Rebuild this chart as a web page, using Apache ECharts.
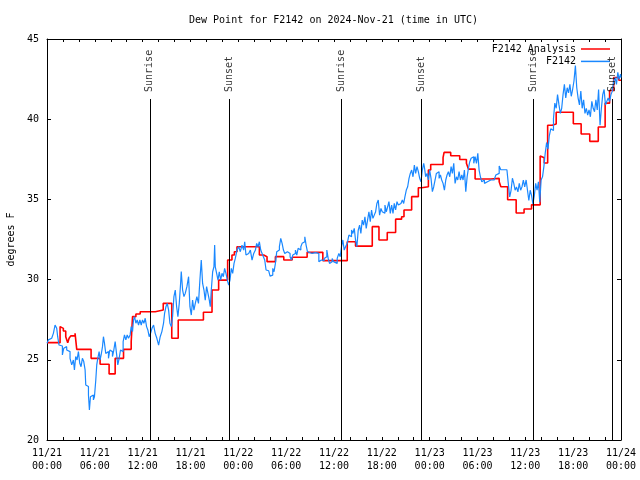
<!DOCTYPE html>
<html><head><meta charset="utf-8">
<script src="https://cdn.jsdelivr.net/npm/echarts@6/dist/echarts.min.js"></script>
<style>html,body{margin:0;padding:0;background:#fff}#c{width:640px;height:480px}</style>
</head><body><div id="c"></div>
<script>
const FONT = '"DejaVu Sans Mono", "Liberation Mono", monospace';
const titleText = 'Dew Point for F2142 on 2024-Nov-21 (time in UTC)';
const yAxisTitle = 'degrees F';
const xTickLabels = ['11/21\n00:00','11/21\n06:00','11/21\n12:00','11/21\n18:00','11/22\n00:00','11/22\n06:00','11/22\n12:00','11/22\n18:00','11/23\n00:00','11/23\n06:00','11/23\n12:00','11/23\n18:00','11/24\n00:00'];
const seriesNames = ['F2142 Analysis', 'F2142'];

// hours since 2024-11-21 00:00 UTC
const analysisHours = [0,1.64,1.84,2.05,2.35,2.6,2.77,2.98,3.52,3.73,5.53,6.66,7.79,8.55,9.6,10.56,10.73,11.15,11.69,13.57,14.58,15.65,16.46,19.62,20.7,21.53,22.66,23.2,23.5,23.83,26.64,27.18,27.6,28.65,29.7,30.75,32.63,34.6,37.66,38.7,40.8,41.64,42.68,43.73,44.48,44.78,45.74,46.58,47.0,47.84,48.13,49.68,49.81,50.64,51.77,52.61,52.86,53.7,55.67,56.72,56.93,57.78,58.85,59.84,60.78,61.86,62.07,62.37,62.8,63.36,63.87,66.02,67.0,68.08,69.15,70.01,70.57,71.08,71.73,72];
const analysisDew = [26.07,27.07,26.96,26.8,26.44,26.07,26.34,26.49,26.65,25.65,25.09,24.72,24.12,25.09,25.65,26.13,27.69,27.86,28.0,28.1,28.52,26.34,27.48,27.96,29.35,29.97,31.22,31.53,31.74,32.05,31.53,31.43,31.12,31.43,31.22,31.39,31.7,31.18,32.36,32.09,33.3,32.47,32.94,33.77,33.92,34.34,35.17,35.73,35.79,36.83,37.18,37.6,37.93,37.72,37.49,37.25,36.89,36.27,36.31,36.1,35.79,34.98,34.15,34.4,34.66,37.7,37.6,37.27,39.62,39.7,40.43,39.72,39.08,38.62,39.51,41.0,41.79,42.6,42.43,42.43];

const stationHours = [0,0.17,0.38,0.59,0.8,1.01,1.22,1.34,1.51,1.76,1.93,2.1,2.26,2.47,2.68,2.89,3.1,3.31,3.44,3.6,3.77,3.94,4.11,4.27,4.44,4.61,4.78,4.86,5.03,5.2,5.32,5.45,5.62,5.82,5.95,6.12,6.24,6.37,6.54,6.66,6.79,6.96,7.08,7.21,7.37,7.54,7.71,7.88,8.04,8.21,8.38,8.55,8.72,8.88,9.05,9.22,9.39,9.55,9.72,9.89,10.06,10.22,10.43,10.56,10.73,10.85,10.98,11.15,11.31,11.48,11.65,11.82,11.98,12.15,12.32,12.49,12.65,12.82,12.99,13.16,13.37,13.57,13.78,14.0,14.2,14.41,14.62,14.75,14.92,15.08,15.25,15.42,15.59,15.75,15.92,16.09,16.26,16.42,16.59,16.76,16.84,17.01,17.18,17.34,17.55,17.76,17.93,18.1,18.26,18.43,18.6,18.8,19.0,19.18,19.35,19.52,19.69,19.85,20.02,20.19,20.36,20.48,20.61,20.78,20.94,21.03,21.11,21.28,21.45,21.61,21.78,21.95,22.12,22.28,22.45,22.62,22.79,22.95,23.12,23.29,23.46,23.62,23.83,24.04,24.25,24.46,24.67,24.8,24.96,25.13,25.3,25.51,25.72,25.93,26.14,26.3,26.47,26.64,26.81,26.98,27.14,27.31,27.48,27.65,27.81,27.98,28.15,28.32,28.48,28.65,28.82,28.99,29.15,29.32,29.49,29.66,29.82,29.99,30.16,30.33,30.49,30.66,30.83,31.0,31.16,31.33,31.5,31.67,31.84,32.0,32.17,32.34,32.5,32.67,32.84,33.26,33.68,33.93,34.1,34.27,34.43,34.6,34.77,34.94,35.1,35.27,35.44,35.61,35.77,35.94,36.19,36.4,36.61,36.78,36.94,37.11,37.28,37.45,37.66,37.87,38.03,38.2,38.37,38.54,38.7,38.87,39.04,39.21,39.37,39.54,39.71,39.88,40.04,40.21,40.38,40.55,40.71,40.88,41.05,41.22,41.38,41.55,41.72,41.89,42.05,42.22,42.39,42.56,42.73,42.89,43.06,43.23,43.4,43.56,43.73,43.9,44.07,44.23,44.4,44.57,44.74,44.9,45.07,45.24,45.41,45.57,45.74,45.91,46.08,46.24,46.41,46.58,46.75,46.91,47.08,47.25,47.33,47.5,47.67,47.84,48.0,48.17,48.34,48.51,48.68,48.84,49.01,49.18,49.35,49.51,49.68,49.85,50.02,50.18,50.35,50.52,50.69,50.85,51.02,51.19,51.36,51.52,51.69,51.86,52.03,52.19,52.36,52.53,52.7,52.86,53.03,53.2,53.37,53.53,53.7,53.87,54.04,54.12,54.2,54.37,54.54,54.71,54.87,55.04,55.25,55.46,55.67,55.88,56.09,56.3,56.55,56.72,56.92,57.35,57.69,57.86,58.04,58.21,58.38,58.55,58.72,58.89,59.07,59.24,59.41,59.58,59.75,59.92,60.1,60.27,60.44,60.61,60.78,60.95,61.13,61.3,61.47,61.64,61.81,61.98,62.16,62.33,62.5,62.67,62.84,63.01,63.19,63.36,63.53,63.7,63.87,64.04,64.22,64.39,64.56,64.73,64.9,65.07,65.25,65.42,65.59,65.76,65.93,66.1,66.28,66.45,66.62,66.79,66.96,67.13,67.31,67.48,67.65,67.82,67.99,68.16,68.34,68.51,68.68,68.85,69.02,69.19,69.37,69.54,69.71,69.88,70.05,70.22,70.39,70.57,70.74,70.91,71.08,71.25,71.43,71.6,71.77,71.94,72];
const stationDew = [26.03,26.24,26.34,26.24,26.65,27.17,26.96,26.44,25.92,25.86,25.3,25.72,25.82,25.61,25.51,25.09,24.68,24.99,24.37,25.2,24.99,25.51,24.78,24.57,25.09,24.89,24.37,23.43,23.33,22.81,21.87,22.7,22.81,22.5,22.7,23.74,24.68,25.09,25.51,24.99,25.3,25.82,26.44,26.03,25.4,25.51,25.09,25.61,25.51,25.2,25.61,26.13,25.4,24.68,25.09,25.61,25.51,26.13,26.55,26.24,26.55,26.34,26.55,27.07,26.76,27.48,27.69,27.28,27.48,27.17,27.48,27.17,27.48,27.28,27.59,27.07,26.86,26.44,26.65,26.96,27.17,26.65,26.34,25.92,26.44,26.76,27.28,27.9,28.31,28.52,28.11,27.28,27.07,27.69,28.94,29.35,28.31,27.69,28.52,29.77,30.5,29.35,28.94,29.14,29.56,30.18,28.31,27.79,28.72,28.1,28.52,28.93,28.52,29.97,31.22,29.76,29.35,28.72,29.56,29.14,28.72,28.31,29.35,30.49,30.8,32.15,30.8,30.39,29.97,30.49,29.97,30.39,30.18,30.7,30.39,29.97,29.66,29.97,30.7,30.39,31.01,31.32,31.84,32.05,31.74,32.15,31.84,32.36,31.53,31.63,31.53,31.84,31.22,31.63,31.84,32.26,32.05,32.36,31.84,31.63,31.43,31.22,30.6,30.55,30.6,30.22,30.28,30.7,30.49,31.01,31.74,31.84,32.05,32.57,32.26,31.84,31.63,31.74,31.63,31.63,31.43,31.22,31.53,31.63,31.84,31.53,31.95,31.84,32.05,32.26,32.36,32.67,32.15,31.74,31.63,31.68,31.7,31.63,31.12,31.22,31.12,31.18,31.32,31.43,31.84,31.32,31.01,31.12,31.32,31.12,31.01,31.32,31.63,31.43,32.05,32.47,31.84,32.05,32.26,32.78,32.67,33.09,32.88,33.19,32.47,32.05,33.09,33.4,32.88,33.71,33.4,33.92,33.19,33.71,34.23,33.61,34.34,33.82,34.02,34.23,34.75,34.96,34.02,34.44,34.23,34.13,34.65,34.23,34.54,34.86,34.13,34.65,34.13,34.75,34.34,34.86,34.65,34.75,34.86,34.96,34.75,35.17,35.58,35.79,36.31,36.62,36.83,36.41,37.14,36.62,37.04,36.73,36.31,36.1,36.83,37.25,37.04,36.41,36.62,36.21,36.83,36.31,35.48,35.79,36.21,36.62,36.73,36.31,36.52,36.21,36.0,35.58,36.21,36.52,36.73,36.41,37.04,36.62,37.25,36.0,36.41,36.21,36.73,36.21,36.52,36.21,36.83,35.48,36.41,36.93,37.35,37.56,37.66,37.25,37.66,37.25,37.87,37.35,36.83,36.41,36.1,36.21,36.0,36.1,36.0,36.21,36.1,36.21,36.25,36.52,36.62,37.08,36.85,36.85,36.74,36.0,35.15,35.57,36.32,36.0,35.57,35.78,35.47,36.0,35.57,35.78,36.21,35.78,36.21,35.57,34.93,35.57,35.25,34.72,35.25,36.0,35.57,36.1,34.83,36.21,36.42,37.06,37.91,38.55,38.13,38.98,39.4,39.3,40.04,41.0,40.68,41.53,40.89,40.36,40.68,41.53,42.17,41.32,41.96,41.64,42.17,41.43,41.85,42.38,43.34,41.96,41.32,40.89,41.75,40.68,41.21,40.36,40.68,40.26,40.58,40.15,41.11,40.68,40.47,41.21,40.58,41.85,39.62,40.68,41.53,41.85,40.89,41.11,41.32,41.11,41.53,41.75,42.38,42.6,42.17,42.92,42.49,42.81,42.6];

const sunriseHours = [12.9, 36.93, 60.98];
const sunsetHours = [22.88, 46.93, 70.87];
const eventLineTop = 41.26;

const zip = (a, b) => a.map((v, i) => [v, b[i]]);
const events = sunriseHours.map(h => [h, eventLineTop, 'Sunrise']).concat(sunsetHours.map(h => [h, eventLineTop, 'Sunset']));

const chart = echarts.init(document.getElementById('c'), null, {renderer: 'canvas'});
const txt = {fontFamily: FONT, fontSize: 10, color: '#000'};
const axisBase = {
  axisLine: {show: true, onZero: false, lineStyle: {color: '#000', width: 1}},
  splitLine: {show: false}
};
const lineIcon = 'path://M0,0H58V3H0Z';
chart.setOption({
  animation: false,
  backgroundColor: '#fff',
  title: {text: titleText, left: 189, top: 14, padding: 0, textStyle: Object.assign({fontWeight: 'normal', lineHeight: 12}, txt)},
  grid: {left: 47, top: 39, right: 19, bottom: 40, containLabel: false, outerBoundsMode: 'none'},
  legend: {
    data: [{name: seriesNames[0], icon: lineIcon}, {name: seriesNames[1], icon: lineIcon}],
    orient: 'vertical', align: 'right', right: 30, top: 43,
    itemWidth: 29, itemHeight: 12, itemGap: 0.4, padding: 0,
    textStyle: Object.assign({lineHeight: 12}, txt)
  },
  xAxis: [
    Object.assign({}, axisBase, {
      type: 'value', min: 0, max: 72, interval: 6, position: 'bottom',
      axisTick: {show: true, inside: true, length: 3, lineStyle: {color: '#000'}},
      minorTick: {show: true, splitNumber: 3, length: 3, lineStyle: {color: '#000'}},
      axisLabel: Object.assign({margin: 7, lineHeight: 13, formatter: v => xTickLabels[Math.round(v / 6)]}, txt)
    }),
    Object.assign({}, axisBase, {
      type: 'value', min: 0, max: 72, interval: 6, position: 'top',
      axisTick: {show: true, inside: true, length: 3, lineStyle: {color: '#000'}},
      minorTick: {show: true, splitNumber: 3, length: 3, lineStyle: {color: '#000'}},
      axisLabel: {show: false}
    })
  ],
  yAxis: [
    Object.assign({}, axisBase, {
      type: 'value', min: 20, max: 45, interval: 5, position: 'left',
      axisTick: {show: true, inside: true, length: 4, lineStyle: {color: '#000'}},
      axisLabel: Object.assign({margin: 8}, txt),
      name: yAxisTitle, nameLocation: 'middle', nameRotate: 90, nameGap: 31,
      nameTextStyle: txt
    }),
    Object.assign({}, axisBase, {
      type: 'value', min: 20, max: 45, interval: 5, position: 'right',
      axisTick: {show: true, inside: true, length: 4, lineStyle: {color: '#000'}},
      axisLabel: {show: false}
    })
  ],
  series: [
    {
      name: seriesNames[0], type: 'line', step: 'end', data: zip(analysisHours, analysisDew),
      symbol: 'none', showSymbol: false, color: '#ff0000', z: 2,
      lineStyle: {color: '#ff0000', width: 1.6}
    },
    {
      name: seriesNames[1], type: 'line', step: 'end', data: zip(stationHours, stationDew),
      symbol: 'none', showSymbol: false, color: '#1a88ff', z: 3,
      lineStyle: {color: '#1a88ff', width: 1.2}
    },
    {
      name: 'events', type: 'scatter', data: events, symbolSize: 0, silent: true, z: 4,
      label: Object.assign({
        show: true, formatter: p => p.data[2], rotate: 90,
        position: [0, -7], align: 'left', verticalAlign: 'middle'
      }, txt),
      markLine: {
        silent: true, symbol: ['none', 'none'], animation: false,
        label: {show: false},
        lineStyle: {color: '#000', width: 1, type: 'solid'},
        emphasis: {disabled: true},
        data: sunriseHours.concat(sunsetHours).map(h => [{coord: [h, 20]}, {coord: [h, eventLineTop]}])
      }
    }
  ]
});
</script>
</body></html>
